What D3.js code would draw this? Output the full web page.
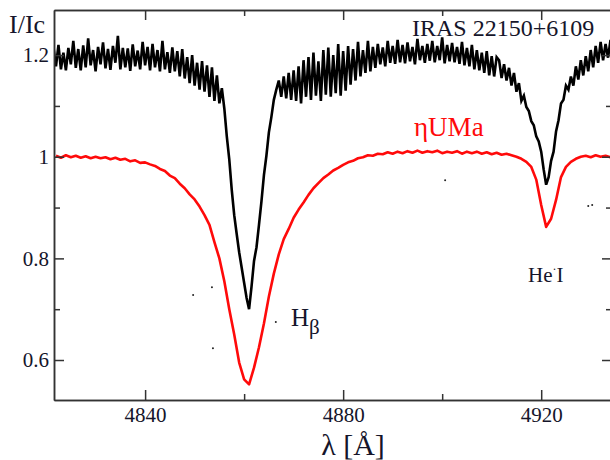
<!DOCTYPE html>
<html><head><meta charset="utf-8">
<script src="https://cdn.jsdelivr.net/npm/d3@7"></script>
<style>html,body{margin:0;padding:0;background:#fff;} svg{display:block;}</style>
</head><body><svg id="c" width="610" height="460"></svg>
<script>
// ---------- data ----------
const xTicksMajor = [4840, 4880, 4920];
const xTicksMinor = [4860, 4900];
const yTicksMajor = [0.6, 0.8, 1.0, 1.2];
const yTickLabels = ["0.6", "0.8", "1", "1.2"];
const yTicksMinor = [0.7, 0.9, 1.1];

// IRAS 22150+6109 spectrum, sampled every 0.5 Å from 4821.5 Å
const blackStart = 4821.5, blackStep = 0.5;
const blackFlux = [
1.215,1.178,1.220,1.172,1.205,1.170,1.214,1.182,1.228,1.175,
1.212,1.170,1.219,1.176,1.233,1.180,1.210,1.168,1.216,1.182,
1.225,1.174,1.212,1.171,1.218,1.185,1.238,1.172,1.214,1.176,
1.213,1.169,1.221,1.178,1.209,1.172,1.226,1.180,1.216,1.170,
1.222,1.176,1.210,1.168,1.228,1.172,1.206,1.165,1.215,1.168,
1.208,1.158,1.212,1.154,1.196,1.145,1.200,1.140,1.185,1.132,
1.188,1.128,1.180,1.118,1.176,1.110,1.160,1.105,1.135,1.095,
1.040,0.995,0.935,0.885,0.848,0.812,0.782,0.752,0.722,0.700,
0.745,0.795,0.822,0.866,0.912,0.964,1.002,1.048,1.078,1.112,
1.132,1.150,1.118,1.158,1.115,1.165,1.112,1.170,1.110,1.178,
1.105,1.190,1.118,1.196,1.112,1.205,1.120,1.188,1.110,1.210,
1.122,1.215,1.118,1.200,1.125,1.222,1.120,1.208,1.130,1.218,
1.142,1.212,1.150,1.226,1.158,1.210,1.165,1.228,1.168,1.216,
1.175,1.222,1.182,1.215,1.178,1.228,1.185,1.218,1.183,1.230,
1.186,1.220,1.184,1.225,1.188,1.216,1.182,1.232,1.190,1.218,
1.185,1.222,1.189,1.228,1.186,1.218,1.190,1.235,1.184,1.220,
1.188,1.224,1.186,1.216,1.183,1.226,1.180,1.214,1.178,1.220,
1.172,1.210,1.170,1.205,1.165,1.208,1.160,1.198,1.158,1.196,
1.190,1.155,1.182,1.150,1.175,1.140,1.165,1.128,1.145,1.110,
1.120,1.098,1.090,1.070,1.062,1.040,1.030,1.010,0.975,0.945,
0.960,0.992,1.010,1.050,1.072,1.105,1.112,1.140,1.132,1.158,
1.140,1.178,1.152,1.190,1.160,1.198,1.168,1.210,1.176,1.218,
1.185,1.226,1.190,1.222,1.195,1.230,1.198
];

// eta UMa spectrum, sampled every 1 Å from 4822 Å
const redStart = 4822, redStep = 1;
const redFlux = [
1.002,0.998,1.003,0.999,1.002,0.998,1.001,0.997,1.000,0.997,
0.999,0.995,0.998,0.994,0.996,0.991,0.993,0.988,0.989,0.985,
0.982,0.976,0.972,0.963,0.958,0.947,0.938,0.926,0.916,0.902,
0.885,0.866,0.832,0.800,0.755,0.700,0.650,0.595,0.562,0.552,
0.585,0.625,0.672,0.725,0.770,0.808,0.838,0.858,0.880,0.896,
0.910,0.925,0.938,0.948,0.958,0.965,0.973,0.978,0.984,0.989,
0.992,0.997,0.999,1.003,1.002,1.006,1.005,1.009,1.006,1.010,
1.007,1.011,1.008,1.012,1.008,1.011,1.009,1.012,1.007,1.010,
1.008,1.011,1.006,1.010,1.007,1.010,1.006,1.009,1.005,1.008,
1.004,1.006,1.003,1.000,0.996,0.990,0.980,0.955,0.905,0.862,
0.878,0.915,0.960,0.980,0.990,0.996,1.000,1.002,0.999,1.003,
1.000,1.002,0.999
];

// stray specks in the figure
const speckLambda = [4849.7, 4853.5, 4853.7, 4866.4, 4900.6, 4929.5, 4930.3];
const speckFlux   = [0.728, 0.743, 0.623, 0.675, 0.954, 0.903, 0.905];

// ---------- drawing ----------
const svg = d3.select("#c");
const L = 54, R = 612, T = 10, B = 400;
const x = d3.scaleLinear().domain([4821.6, 4934.3]).range([L, R]);
const y = d3.scaleLinear().domain([0.5213, 1.2888]).range([B, T]);
const FONT = "'Liberation Serif', 'Times New Roman', serif";
const TXT = "#15152a";

svg.append("rect").attr("width", 610).attr("height", 460).attr("fill", "#fff");

svg.append("clipPath").attr("id", "clip")
  .append("rect").attr("x", L).attr("y", T).attr("width", R - L).attr("height", B - T);

const plot = svg.append("g").attr("clip-path", "url(#clip)");

const blackData = blackFlux.map((v, i) => [blackStart + i * blackStep, v]);
const redData = redFlux.map((v, i) => [redStart + i * redStep, v]);

const line = d3.line().x(d => x(d[0])).y(d => y(d[1]));

plot.append("path").datum(redData)
  .attr("d", line).attr("fill", "none")
  .attr("stroke", "#ff0a0a").attr("stroke-width", 2.6).attr("stroke-linejoin", "round");

plot.append("path").datum(blackData)
  .attr("d", line).attr("fill", "none")
  .attr("stroke", "#000").attr("stroke-width", 2.6).attr("stroke-linejoin", "miter");

plot.selectAll("circle.speck").data(speckLambda).enter().append("circle")
  .attr("class", "speck")
  .attr("cx", d => x(d)).attr("cy", (d, i) => y(speckFlux[i])).attr("r", 1)
  .attr("fill", "#222");

// axes
function styleAxis(g) {
  g.selectAll("path.domain").attr("stroke", "#333").attr("stroke-width", 1.5);
  g.selectAll(".tick line").attr("stroke", "#333").attr("stroke-width", 1.5);
  g.selectAll(".tick text").attr("fill", TXT).attr("font-family", FONT).attr("font-size", 21);
  g.attr("font-family", FONT).attr("font-size", 21);
}

// bottom
svg.append("g").attr("transform", `translate(0,${B})`)
  .call(d3.axisBottom(x).tickValues(xTicksMajor).tickSize(-10).tickSizeOuter(0).tickPadding(7).tickFormat(d3.format("d")))
  .call(styleAxis);
svg.append("g").attr("transform", `translate(0,${B})`)
  .call(d3.axisBottom(x).tickValues(xTicksMinor).tickSize(-6).tickSizeOuter(0).tickFormat(""))
  .call(styleAxis);
// top
svg.append("g").attr("transform", `translate(0,${T})`)
  .call(d3.axisTop(x).tickValues(xTicksMajor).tickSize(-10).tickSizeOuter(0).tickFormat(""))
  .call(styleAxis);
svg.append("g").attr("transform", `translate(0,${T})`)
  .call(d3.axisTop(x).tickValues(xTicksMinor).tickSize(-6).tickSizeOuter(0).tickFormat(""))
  .call(styleAxis);
// left
svg.append("g").attr("transform", `translate(${L},0)`)
  .call(d3.axisLeft(y).tickValues(yTicksMajor).tickSize(-10).tickSizeOuter(0).tickPadding(5)
    .tickFormat((d, i) => yTickLabels[i]))
  .call(styleAxis);
svg.append("g").attr("transform", `translate(${L},0)`)
  .call(d3.axisLeft(y).tickValues(yTicksMinor).tickSize(-6).tickSizeOuter(0).tickFormat(""))
  .call(styleAxis);
// right
svg.append("g").attr("transform", `translate(${R},0)`)
  .call(d3.axisRight(y).tickValues(yTicksMajor).tickSize(-10).tickSizeOuter(0).tickFormat(""))
  .call(styleAxis);
svg.append("g").attr("transform", `translate(${R},0)`)
  .call(d3.axisRight(y).tickValues(yTicksMinor).tickSize(-6).tickSizeOuter(0).tickFormat(""))
  .call(styleAxis);

// texts
svg.append("text").attr("x", 9).attr("y", 33).attr("font-family", FONT).attr("font-size", 26)
  .attr("fill", TXT).text("I/Ic");

svg.append("text").attr("x", 412).attr("y", 36).attr("font-family", FONT).attr("font-size", 24)
  .attr("fill", TXT).text("IRAS 22150+6109");

svg.append("text").attr("x", 414).attr("y", 136).attr("font-family", FONT).attr("font-size", 27)
  .attr("fill", "#ff0a0a").text("ηUMa");

const hb = svg.append("text").attr("x", 291).attr("y", 326).attr("font-family", FONT)
  .attr("font-size", 25).attr("fill", TXT);
hb.append("tspan").text("H");
hb.append("tspan").attr("dy", 8).attr("font-size", 21).text("β");

const he = svg.append("text").attr("x", 528).attr("y", 282).attr("font-family", FONT)
  .attr("font-size", 21).attr("fill", TXT);
he.append("tspan").text("He");
he.append("tspan").attr("dy", -9).attr("font-size", 12).text("·");
he.append("tspan").attr("dy", 9).text("I");

svg.append("text").attr("x", 353).attr("y", 455).attr("text-anchor", "middle")
  .attr("font-family", FONT).attr("font-size", 30).attr("fill", TXT).text("λ [Å]");
</script>
</body></html>
